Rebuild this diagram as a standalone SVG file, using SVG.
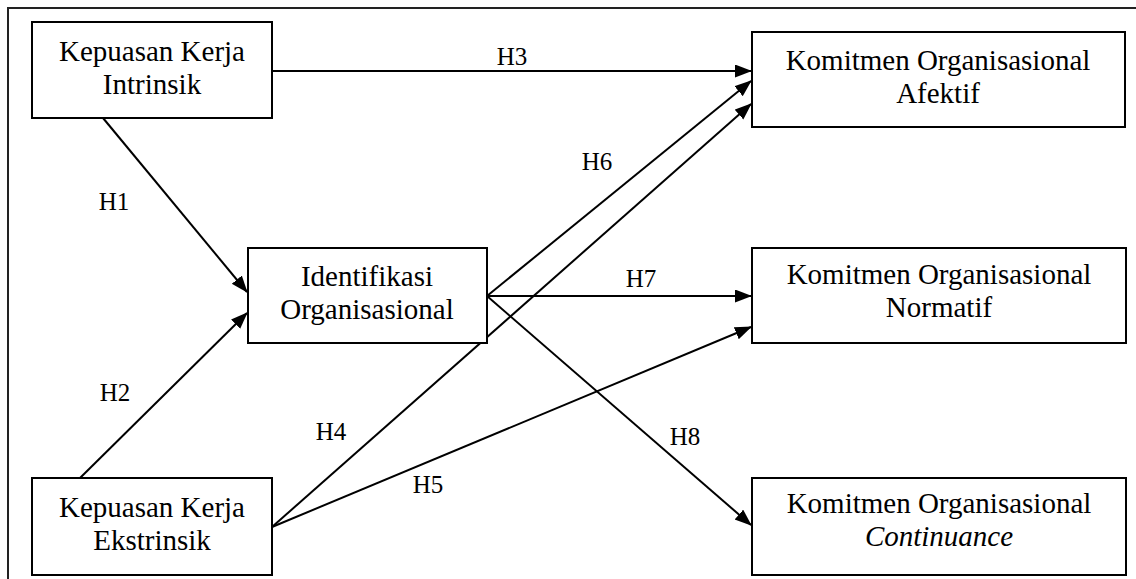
<svg xmlns="http://www.w3.org/2000/svg" width="1136" height="579" viewBox="0 0 1136 579">
<defs>
<style>
.box{fill:#fff;stroke:#000;stroke-width:2}
.t{font-family:"Liberation Serif","Times New Roman",serif;font-size:29px;fill:#000;text-anchor:middle}
.lbl{font-family:"Liberation Serif","Times New Roman",serif;font-size:25px;fill:#000;text-anchor:middle}
.c{stroke:#000;stroke-width:2;fill:none;marker-end:url(#ah)}
.frame{stroke:#222;stroke-width:2;fill:none}
</style>
<marker id="ah" markerUnits="userSpaceOnUse" markerWidth="18" markerHeight="14" refX="16" refY="6.5" orient="auto">
<path d="M0,0 L17,6.5 L0,13 z" fill="#000"/>
</marker>
</defs>
<rect width="1136" height="579" fill="#fff"/>
<path class="frame" d="M8,579 L8,8 L1136,8"/>
<g id="connectors">
<line class="c" x1="273" y1="71" x2="751" y2="71"/>
<line class="c" x1="103" y1="118" x2="247" y2="292"/>
<line class="c" x1="80" y1="478" x2="247" y2="313"/>
<line class="c" x1="487" y1="296" x2="751" y2="81"/>
<line class="c" x1="272" y1="527" x2="751" y2="104"/>
<line class="c" x1="487" y1="296" x2="751" y2="296"/>
<line class="c" x1="272" y1="527" x2="751" y2="327"/>
<line class="c" x1="487" y1="296" x2="751" y2="525"/>
<g id="labels">
<text class="lbl" x="114" y="210">H1</text>
<text class="lbl" x="115" y="401">H2</text>
<text class="lbl" x="512" y="65">H3</text>
<text class="lbl" x="331" y="440">H4</text>
<text class="lbl" x="428" y="493">H5</text>
<text class="lbl" x="597" y="170">H6</text>
<text class="lbl" x="641" y="287">H7</text>
<text class="lbl" x="685" y="445">H8</text>
</g>
</g>
<g id="intrinsik">
<rect class="box" x="32" y="22" width="240" height="96"/>
<text class="t" x="152" y="61">Kepuasan Kerja</text>
<text class="t" x="152" y="94">Intrinsik</text>
</g>
<g id="ekstrinsik">
<rect class="box" x="32" y="478" width="240" height="97"/>
<text class="t" x="152" y="517">Kepuasan Kerja</text>
<text class="t" x="152" y="550">Ekstrinsik</text>
</g>
<g id="identifikasi">
<rect class="box" x="248" y="248" width="239" height="95"/>
<text class="t" x="367" y="286">Identifikasi</text>
<text class="t" x="367" y="319">Organisasional</text>
</g>
<g id="afektif">
<rect class="box" x="752" y="32" width="373" height="95"/>
<text class="t" x="938" y="70">Komitmen Organisasional</text>
<text class="t" x="938" y="103">Afektif</text>
</g>
<g id="normatif">
<rect class="box" x="752" y="248" width="374" height="95"/>
<text class="t" x="939" y="284">Komitmen Organisasional</text>
<text class="t" x="939" y="317">Normatif</text>
</g>
<g id="continuance">
<rect class="box" x="752" y="478" width="374" height="97"/>
<text class="t" x="939" y="513">Komitmen Organisasional</text>
<text class="t" x="939" y="546" font-style="italic">Continuance</text>
</g>
</svg>
